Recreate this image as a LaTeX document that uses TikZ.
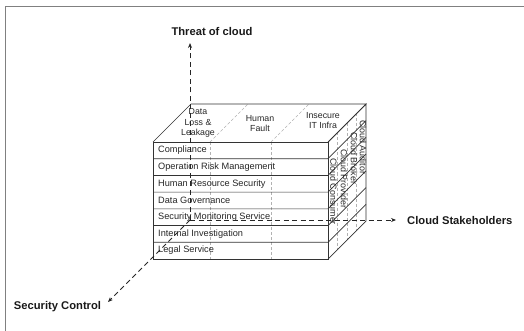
\documentclass[tikz,border=0pt]{standalone}
\usepackage{fontspec}
\setmainfont{Liberation Sans}
\usetikzlibrary{arrows.meta}
\begin{document}
\begin{tikzpicture}[x=1pt,y=-1pt,
  cubeline/.style={line width=0.7pt, black!80},
  divline/.style={gray!60, dash pattern=on 3pt off 2pt, line width=0.6pt},
  axisline/.style={line width=1pt, black!85, dash pattern=on 5pt off 3.5pt, -{Stealth[length=5pt,width=4pt]}},
  rowlabel/.style={anchor=west, inner sep=0pt, text=black!85, font=\fontsize{9.2}{10}\selectfont},
  toplabel/.style={align=center, inner sep=0pt, text=black!85, font=\fontsize{8.8}{10.5}\selectfont},
  sidelabel/.style={rotate=-90, anchor=west, inner sep=0pt, text=black!85, font=\fontsize{8.9}{10}\selectfont},
  axislabel/.style={inner sep=0pt, text=black!90, font=\bfseries\fontsize{11.2}{13}\selectfont}]
\useasboundingbox (0,0) rectangle (524,331);
% frame
\draw[line width=1.8pt, gray] (5.5,331) -- (5.5,6.5) -- (524,6.5);
% cube corners
\coordinate (FTL) at (153,142);
\coordinate (FTR) at (328,142);
\coordinate (FBL) at (153,259);
\coordinate (FBR) at (328,259);
\coordinate (BTL) at (191,104);
\coordinate (BTR) at (366,104);
\coordinate (BBR) at (366,221);
% dividers
\draw[divline] (210,142) -- (210,259);
\draw[divline] (271,142) -- (271,259);
\draw[divline] (210,142) -- (248,104);
\draw[divline] (271,142) -- (309,104);
\foreach \k in {1,2,3}{
  \draw[divline] ({328+9.5*\k},{142-9.5*\k}) -- ({328+9.5*\k},{259-9.5*\k});
}
% cube outline
\draw[cubeline] (FTL) -- (BTL) -- (BTR) -- (FTR);
\draw[cubeline] (FTR) -- (BTR) -- (BBR) -- (FBR);
\draw[cubeline] (FTL) rectangle (FBR);
\foreach \k in {1,...,6}{
  \draw[cubeline] (153,{142+16.714*\k}) -- (328,{142+16.714*\k}) -- (366,{104+16.714*\k});
}
% row labels
\node[rowlabel] (r1) at (158,150.4) {Compliance};
\node[rowlabel] (r2) at (158,167.1) {Operation Risk Management};
\node[rowlabel] (r3) at (158,183.8) {Human Resource Security};
\node[rowlabel] (r4) at (158,200.5) {Data Governance};
\node[rowlabel] (r5) at (158,217.2) {Security Monitoring Service};
\node[rowlabel] (r6) at (158,233.9) {Internal Investigation};
\node[rowlabel] (r7) at (158,250.6) {Legal Service};
% top labels
\node[toplabel] (t1) at (198,123) {Data\\Loss \&\\Leakage};
\node[toplabel] (t2) at (260,123.5) {Human\\Fault};
\node[toplabel] (t3) at (323,120.5) {Insecure\\IT Infra};
% side labels
\node[sidelabel] (s1) at (333.5,158) {Cloud Consumer};
\node[sidelabel] (s2) at (344,149) {Cloud Provider};
\node[sidelabel] (s3) at (354,132) {Cloud Broker};
\node[sidelabel] (s4) at (363,120) {Cloud Auditor};
% axes
\coordinate (O) at (190,220);
\coordinate (Tend) at (190,43);
\coordinate (Send) at (396,220);
\coordinate (Cend) at (108,302);
\draw[axisline] (O) -- (Tend);
\draw[axisline] (O) -- (Send);
\draw[axisline] (O) -- (Cend);
\node[axislabel] (threat) at (212,31) {Threat of cloud};
\node[axislabel, anchor=west] (stake) at (407,220.5) {Cloud Stakeholders};
\node[axislabel] (secc) at (57.5,306.5) {Security Control};
\end{tikzpicture}
\end{document}
